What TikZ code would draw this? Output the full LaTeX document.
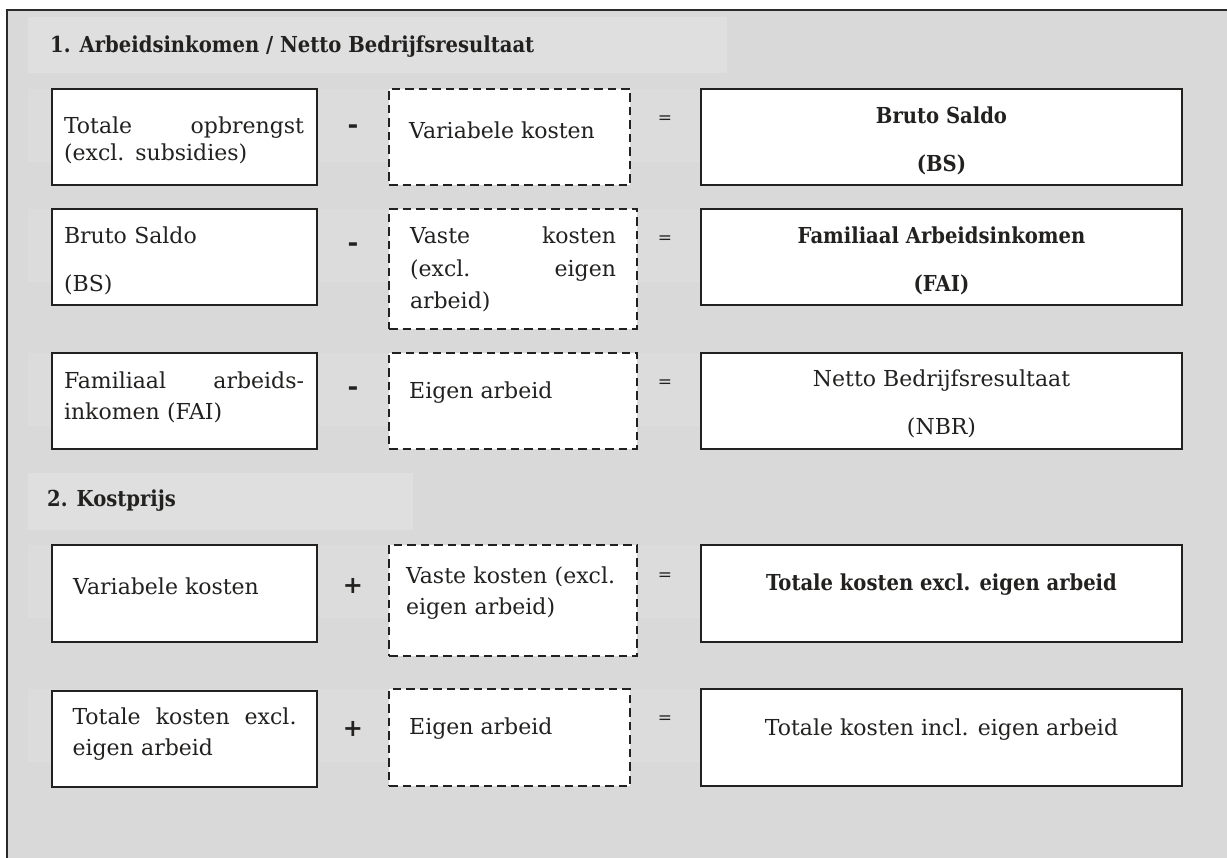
\documentclass[tikz,border=0pt]{standalone}
\usepackage{fontspec}
\setmainfont{DejaVu Serif}
\newfontfamily\semib[FakeStretch=0.89]{DejaVu Serif}
\definecolor{bg}{HTML}{D9D9D9}
\definecolor{band}{HTML}{DFDFDF}
\definecolor{rowband}{HTML}{DCDCDC}
\definecolor{ink}{HTML}{222120}
\definecolor{frame}{HTML}{2A2A2A}
\tikzset{
  box/.style={draw=ink, line width=1.8pt, fill=white, rectangle, inner sep=0pt},
  dbox/.style={draw=ink, line width=1.5pt, fill=white, rectangle, inner sep=0pt, dash pattern=on 8.5pt off 5pt},
  txt/.style={font=\fontsize{22}{31}\selectfont, text=ink, inner sep=0pt, align=left},
  ctxt/.style={font=\fontsize{22}{31}\selectfont, text=ink, inner sep=0pt, align=center},
  btxt/.style={font=\semib\bfseries\fontsize{22}{31}\selectfont, text=ink, inner sep=0pt, align=center},
  head/.style={font=\semib\bfseries\fontsize{22}{26}\selectfont, text=ink, inner sep=0pt, anchor=west},
  minus/.style={font=\bfseries\fontsize{26}{26}\selectfont, text=ink, inner sep=0pt},
  plus/.style={font=\bfseries\fontsize{24}{24}\selectfont, text=ink, inner sep=0pt},
  eqs/.style={font=\fontsize{17}{17}\selectfont, text=ink, inner sep=0pt}
}
\begin{document}
\begin{tikzpicture}[x=1pt,y=-1pt]
\useasboundingbox (0,0) rectangle (1227,858);
\clip (0,0) rectangle (1227,858);
\fill[white] (0,0) rectangle (1227,858);
\fill[bg] (7,10) rectangle (1240,870);
\draw[frame, line width=2pt] (7,870) -- (7,10) -- (1240,10);
% bands
\fill[band] (28,17) rectangle (727,73);
\fill[band] (28,473) rectangle (413,530);
\fill[rowband] (28,89) rectangle (727,162);
\fill[rowband] (28,209) rectangle (727,282);
\fill[rowband] (28,353) rectangle (727,426);
\fill[rowband] (28,545) rectangle (727,618);
\fill[rowband] (28,689) rectangle (727,762);
% headings
\node[head] (h1) at (50,47) {1. Arbeidsinkomen / Netto Bedrijfsresultaat};
\node[head] (h2) at (47,501) {2. Kostprijs};
% row 1
\node[box, minimum width=265, minimum height=96] (l1) at (184.5,137) {};
\node[dbox, minimum width=241, minimum height=96] (d1) at (509.5,137) {};
\node[box, minimum width=481, minimum height=96] (r1) at (941.5,137) {};
\node[txt, text width=240, font=\fontsize{22}{27}\selectfont] (tl1) at (184,140) {Totale\hfill opbrengst\\(excl. subsidies)};
\node[txt, anchor=west] (td1) at (409,130) {Variabele kosten};
\node[btxt] (tr1) at (941.5,141) {Bruto Saldo\\[17pt](BS)};
\node[minus] (m1) at (353,129) {-};
\node[eqs] (e1) at (665,120) {=};
% row 2
\node[box, minimum width=265, minimum height=96] (l2) at (184.5,257) {};
\node[dbox, minimum width=248, minimum height=120] (d2) at (513,269) {};
\node[box, minimum width=481, minimum height=96] (r2) at (941.5,257) {};
\node[txt, text width=240] (tl2) at (184,261) {Bruto Saldo\\[17pt](BS)};
\node[txt, text width=206, font=\fontsize{22}{32.5}\selectfont] (td2) at (513,269.5) {Vaste\hfill kosten\\(excl.\hfill eigen\\arbeid)};
\node[btxt] (tr2) at (941.5,261) {Familiaal Arbeidsinkomen\\[17pt](FAI)};
\node[minus] (m2) at (353,247) {-};
\node[eqs] (e2) at (665,240) {=};
% row 3
\node[box, minimum width=265, minimum height=96] (l3) at (184.5,401) {};
\node[dbox, minimum width=248, minimum height=96] (d3) at (513,401) {};
\node[box, minimum width=481, minimum height=96] (r3) at (941.5,401) {};
\node[txt, text width=240] (tl3) at (184,397) {Familiaal\hfill arbeids-\\inkomen (FAI)};
\node[txt, anchor=west] (td3) at (409,393) {Eigen arbeid};
\node[ctxt] (tr3) at (941.5,404) {Netto Bedrijfsresultaat\\[17pt](NBR)};
\node[minus] (m3) at (353,391) {-};
\node[eqs] (e3) at (665,384) {=};
% row 4
\node[box, minimum width=265, minimum height=97] (l4) at (184.5,593.5) {};
\node[dbox, minimum width=248, minimum height=111] (d4) at (513,600.5) {};
\node[box, minimum width=481, minimum height=97] (r4) at (941.5,593.5) {};
\node[txt, anchor=west] (tl4) at (73,586) {Variabele kosten};
\node[txt, text width=214] (td4) at (513,593.5) {Vaste kosten (excl.\\eigen arbeid)};
\node[btxt] (tr4) at (941.5,585) {Totale kosten excl. eigen arbeid};
\node[plus] (p4) at (353,586) {+};
\node[eqs] (e4) at (665,577) {=};
% row 5
\node[box, minimum width=265, minimum height=96] (l5) at (184.5,739) {};
\node[dbox, minimum width=241, minimum height=97] (d5) at (509.5,737.5) {};
\node[box, minimum width=481, minimum height=97] (r5) at (941.5,737.5) {};
\node[txt, text width=224] (tl5) at (184.5,734.5) {Totale\hfill kosten\hfill excl.\\eigen arbeid};
\node[txt, anchor=west] (td5) at (409,729) {Eigen arbeid};
\node[ctxt] (tr5) at (941.5,730) {Totale kosten incl. eigen arbeid};
\node[plus] (p5) at (353,729) {+};
\node[eqs] (e5) at (665,720) {=};
\end{tikzpicture}
\end{document}
